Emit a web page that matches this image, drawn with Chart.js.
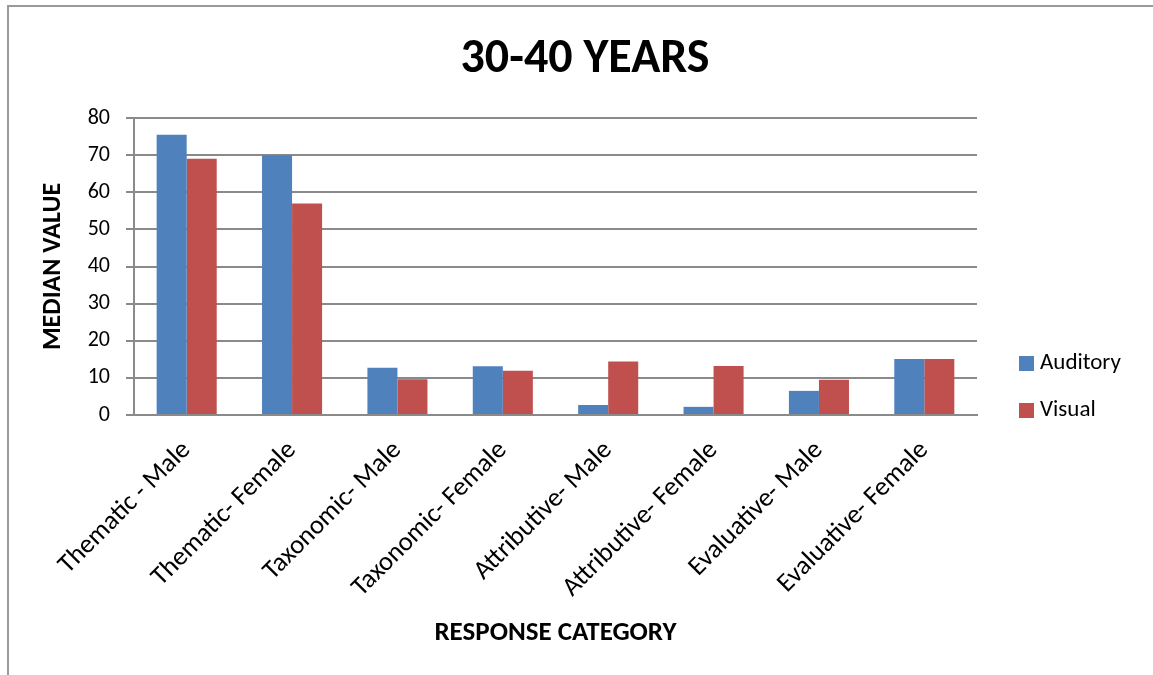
<!DOCTYPE html>
<html>
<head>
<meta charset="utf-8">
<script src="https://cdn.jsdelivr.net/npm/chart.js@4"></script>
<style>
  html, body { margin: 0; padding: 0; background: #fff; }
  #marco { position: absolute; left: 7px; top: 5px; width: 1200px; height: 700px;
           border-left: 2px solid #9a9a9a; border-top: 2px solid #9a9a9a; }
  #caja { position: absolute; left: 0; top: 0; width: 1153px; height: 675px; }
</style>
</head>
<body>
<div id="marco"></div>
<div id="caja"><canvas id="grafico" width="1153" height="675"></canvas></div>
<script>
// Datos del gráfico
const categorias = ['Thematic - Male', 'Thematic- Female', 'Taxonomic- Male', 'Taxonomic- Female',
                    'Attributive- Male', 'Attributive- Female', 'Evaluative- Male', 'Evaluative- Female'];
const auditivo = [75.5, 70, 12.7, 13.1, 2.7, 2.2, 6.5, 15.1];
const visual = [69, 57, 9.6, 11.9, 14.4, 13.2, 9.5, 15.1];
const ticksY = [0, 10, 20, 30, 40, 50, 60, 70, 80];

const fuente = 'Carlito, "Open Sans", sans-serif';
const gris = '#8a8a8a';

// Título y leyenda dibujados a mano
const extras = {
    id: 'extras',
    afterDraw(chart) {
        const ctx = chart.ctx;
        const area = chart.chartArea;
        ctx.save();
        ctx.fillStyle = '#000';
        ctx.font = 'bold 48px ' + fuente;
        ctx.textAlign = 'center';
        ctx.textBaseline = 'middle';
        ctx.fillText('30-40 YEARS', 585, 60);

        ctx.font = '23px ' + fuente;
        ctx.textAlign = 'left';
        chart.data.datasets.forEach((ds, i) => {
            const y = area.bottom - 52 + i * 47;
            ctx.fillStyle = ds.backgroundColor;
            ctx.fillRect(area.right + 42, y - 7, 15, 15);
            ctx.fillStyle = '#000';
            ctx.fillText(ds.label, area.right + 63, y);
        });
        ctx.restore();
    }
};

const ctx = document.getElementById('grafico').getContext('2d');
new Chart(ctx, {
    type: 'bar',
    data: {
        labels: categorias,
        datasets: [
            { label: 'Auditory', data: auditivo, backgroundColor: '#4F81BD' },
            { label: 'Visual', data: visual, backgroundColor: '#C0504D' }
        ]
    },
    options: {
        responsive: false,
        animation: false,
        layout: { padding: { top: 118, right: 176, left: 10, bottom: 22 } },
        datasets: { bar: { barPercentage: 1, categoryPercentage: 0.57 } },
        scales: {
            x: {
                grid: { display: false },
                border: { display: true, color: gris, width: 2 },
                ticks: { color: '#000', font: { family: fuente, size: 26.5 }, padding: 12,
                         maxRotation: 45, minRotation: 45, autoSkip: false },
                title: { display: true, text: 'RESPONSE CATEGORY', color: '#000', padding: { top: 4, bottom: 4 },
                         font: { family: fuente, size: 27, weight: 'bold' } },
                afterFit(s) { s.height = 675 - 415 - 22; }
            },
            y: {
                min: 0,
                max: 80,
                afterBuildTicks(s) { s.ticks = ticksY.map(v => ({ value: v })); },
                grid: { color: gris, lineWidth: 2, tickLength: 8 },
                border: { color: gris, width: 2 },
                ticks: { color: '#000', font: { family: fuente, size: 22 }, padding: 16 },
                title: { display: true, text: 'MEDIAN VALUE', color: '#000', padding: { top: 28, bottom: 0 },
                         font: { family: fuente, size: 26, weight: 'bold' } },
                afterFit(s) { s.width = 124; }
            }
        },
        plugins: {
            legend: { display: false },
            title: { display: false },
            tooltip: { enabled: false }
        }
    },
    plugins: [extras]
});
</script>
</body>
</html>
